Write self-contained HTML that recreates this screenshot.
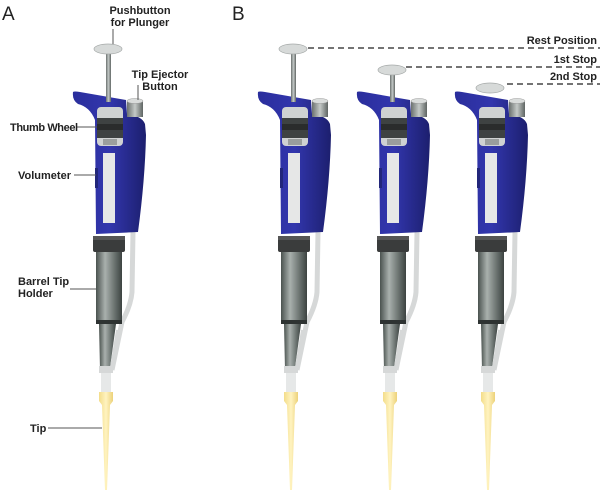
<!DOCTYPE html>
<html><head><style>
html,body{margin:0;padding:0;background:#fff;}
svg{display:block;font-family:"Liberation Sans",sans-serif;}
.l{font-size:11px;font-weight:bold;fill:#222;}
</style></head><body>
<svg width="600" height="493" viewBox="0 0 600 493" xmlns="http://www.w3.org/2000/svg">
<defs>
<linearGradient id="blue" x1="0" x2="1" y1="0" y2="0">
<stop offset="0" stop-color="#2a2e9c"/><stop offset="0.5" stop-color="#3236ad"/><stop offset="1" stop-color="#1c1f6e"/>
</linearGradient>
<linearGradient id="barrel" x1="0" x2="1">
<stop offset="0" stop-color="#4a524f"/><stop offset="0.35" stop-color="#a9b0ad"/><stop offset="0.7" stop-color="#6d7572"/><stop offset="1" stop-color="#3c4341"/>
</linearGradient>
<linearGradient id="rod" x1="0" x2="1">
<stop offset="0" stop-color="#6a706e"/><stop offset="0.5" stop-color="#c4c9c7"/><stop offset="1" stop-color="#5f6563"/>
</linearGradient>
<linearGradient id="tip" x1="0" x2="1">
<stop offset="0" stop-color="#f3dd8a"/><stop offset="0.5" stop-color="#fff3c0"/><stop offset="1" stop-color="#ecd27a"/>
</linearGradient>
<g id="body">
  <path d="M133 232 L132 292 Q131 305 122 322 L112 370" stroke="#d6d8d8" stroke-width="5" fill="none"/>
  <!-- body -->
  <path d="M73 92 Q74 91 80 92 L126 100 L127 114 Q142 116 145 124 L146 135 Q145 180 138 232 L96 234 L95 120 Q90 107 78 104 Q72 100 73 92 Z" fill="url(#blue)"/>
  <!-- ejector button -->
  <rect x="127" y="101" width="16" height="16" fill="url(#rod)"/>
  <ellipse cx="135" cy="101" rx="8" ry="2.5" fill="#d9dcdb" stroke="#999" stroke-width="0.5"/>
  <!-- window -->
  <rect x="97" y="107" width="26" height="39" rx="4" fill="#cfd2d2"/>
  <rect x="97" y="118" width="26" height="20" fill="#3e4242"/>
  <rect x="97" y="124" width="26" height="6" fill="#2a2c2c"/>
  <rect x="103" y="139" width="14" height="6" fill="#9a9e9d"/>
  <rect x="103" y="153" width="12" height="70" fill="#e6e7e7"/>
  <rect x="95" y="168" width="3" height="20" fill="#22267a"/>
  <rect x="93" y="236" width="32" height="16" rx="2" fill="#3a3c3c"/>
  <rect x="93" y="236" width="32" height="4" fill="#555"/>
  <rect x="96" y="252" width="26" height="70" fill="url(#barrel)"/>
  <rect x="96" y="320" width="26" height="4" fill="#2e3332"/>
  <path d="M99 324 L116 324 L110 368 L100 370 Z" fill="url(#barrel)"/>
  <path d="M112 368 L118 330" stroke="#d6d8d8" stroke-width="4"/>
  <rect x="99" y="366" width="14" height="7" fill="#d6d8d8"/>
  <rect x="101" y="373" width="10" height="20" fill="#e6e8e8"/>
  <path d="M99 392 L113 392 L113 401 L110 405 L107 490 L105 490 L102 405 L99 401 Z" fill="url(#tip)"/>
</g>
</defs>

<text x="2" y="20" font-size="19" fill="#222">A</text>
<text x="232" y="20" font-size="19" fill="#222">B</text>

<use href="#body"/>
<rect x="106" y="52" width="5" height="50" fill="url(#rod)"/>
<ellipse cx="108" cy="49" rx="14" ry="5" fill="#d7dad9" stroke="#a5a9a8" stroke-width="0.7"/>

<g transform="translate(185,0)">
<use href="#body"/>
<rect x="106" y="52" width="5" height="50" fill="url(#rod)"/>
<ellipse cx="108" cy="49" rx="14" ry="5" fill="#d7dad9" stroke="#a5a9a8" stroke-width="0.7"/>
</g>
<g transform="translate(284,0)">
<use href="#body"/>
<rect x="106" y="72" width="5" height="30" fill="url(#rod)"/>
<ellipse cx="108" cy="70" rx="14" ry="5" fill="#d7dad9" stroke="#a5a9a8" stroke-width="0.7"/>
</g>
<g transform="translate(382,0)">
<use href="#body"/>
<ellipse cx="108" cy="88" rx="14" ry="5" fill="#d7dad9" stroke="#a5a9a8" stroke-width="0.7"/>
</g>

<g stroke="#222" stroke-width="1.3" stroke-dasharray="6,4">
<line x1="308" y1="48" x2="600" y2="48"/>
<line x1="406" y1="67" x2="600" y2="67"/>
<line x1="507" y1="84" x2="600" y2="84"/>
</g>
<text class="l" x="597" y="44" text-anchor="end">Rest Position</text>
<text class="l" x="597" y="63" text-anchor="end">1st Stop</text>
<text class="l" x="597" y="80" text-anchor="end">2nd Stop</text>

<g stroke="#555" stroke-width="1">
<line x1="113" y1="29" x2="113" y2="44"/>
<line x1="138" y1="85" x2="138" y2="100"/>
<line x1="76" y1="127" x2="97" y2="127"/>
<line x1="74" y1="175" x2="96" y2="175"/>
<line x1="70" y1="289" x2="96" y2="289"/>
<line x1="48" y1="428" x2="102" y2="428"/>
</g>
<text class="l" x="140" y="14" text-anchor="middle">Pushbutton</text>
<text class="l" x="140" y="26" text-anchor="middle">for Plunger</text>
<text class="l" x="160" y="78" text-anchor="middle">Tip Ejector</text>
<text class="l" x="160" y="90" text-anchor="middle">Button</text>
<text class="l" x="10" y="131" letter-spacing="-0.4">Thumb Wheel</text>
<text class="l" x="18" y="179">Volumeter</text>
<text class="l" x="18" y="285">Barrel Tip</text>
<text class="l" x="18" y="297">Holder</text>
<text class="l" x="30" y="432">Tip</text>
</svg>
</body></html>
